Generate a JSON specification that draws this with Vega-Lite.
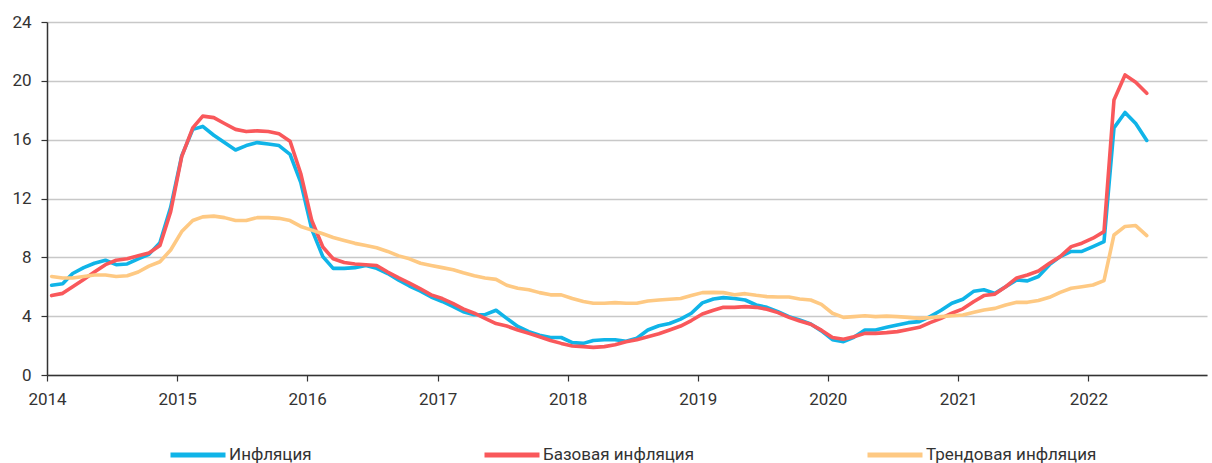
{
"$schema":"https://vega.github.io/schema/vega-lite/v6.json",
"width":1160,"height":353,
"autosize":{"type":"none"},
"padding":{"left":47,"top":22,"right":5,"bottom":88},
"background":"white",
"data":{"values":[
{"d":"2014-01-14","Инфляция":6.1,"Базовая инфляция":5.4,"Трендовая инфляция":6.7},
{"d":"2014-02-14","Инфляция":6.2,"Базовая инфляция":5.55,"Трендовая инфляция":6.6},
{"d":"2014-03-14","Инфляция":6.9,"Базовая инфляция":6.0,"Трендовая инфляция":6.6},
{"d":"2014-04-14","Инфляция":7.3,"Базовая инфляция":6.5,"Трендовая инфляция":6.7},
{"d":"2014-05-14","Инфляция":7.6,"Базовая инфляция":7.0,"Трендовая инфляция":6.8},
{"d":"2014-06-14","Инфляция":7.8,"Базовая инфляция":7.5,"Трендовая инфляция":6.8},
{"d":"2014-07-14","Инфляция":7.5,"Базовая инфляция":7.8,"Трендовая инфляция":6.7},
{"d":"2014-08-14","Инфляция":7.55,"Базовая инфляция":7.9,"Трендовая инфляция":6.75},
{"d":"2014-09-14","Инфляция":7.9,"Базовая инфляция":8.1,"Трендовая инфляция":7.0},
{"d":"2014-10-14","Инфляция":8.2,"Базовая инфляция":8.3,"Трендовая инфляция":7.4},
{"d":"2014-11-14","Инфляция":9.0,"Базовая инфляция":8.8,"Трендовая инфляция":7.7},
{"d":"2014-12-14","Инфляция":11.4,"Базовая инфляция":11.1,"Трендовая инфляция":8.5},
{"d":"2015-01-14","Инфляция":14.9,"Базовая инфляция":14.85,"Трендовая инфляция":9.75},
{"d":"2015-02-14","Инфляция":16.7,"Базовая инфляция":16.8,"Трендовая инфляция":10.5},
{"d":"2015-03-14","Инфляция":16.9,"Базовая инфляция":17.6,"Трендовая инфляция":10.75},
{"d":"2015-04-14","Инфляция":16.3,"Базовая инфляция":17.5,"Трендовая инфляция":10.8},
{"d":"2015-05-14","Инфляция":15.8,"Базовая инфляция":17.1,"Трендовая инфляция":10.7},
{"d":"2015-06-14","Инфляция":15.3,"Базовая инфляция":16.7,"Трендовая инфляция":10.5},
{"d":"2015-07-14","Инфляция":15.6,"Базовая инфляция":16.55,"Трендовая инфляция":10.5},
{"d":"2015-08-14","Инфляция":15.8,"Базовая инфляция":16.6,"Трендовая инфляция":10.7},
{"d":"2015-09-14","Инфляция":15.7,"Базовая инфляция":16.55,"Трендовая инфляция":10.7},
{"d":"2015-10-14","Инфляция":15.6,"Базовая инфляция":16.4,"Трендовая инфляция":10.65},
{"d":"2015-11-14","Инфляция":15.0,"Базовая инфляция":15.9,"Трендовая инфляция":10.5},
{"d":"2015-12-14","Инфляция":13.1,"Базовая инфляция":13.7,"Трендовая инфляция":10.1},
{"d":"2016-01-14","Инфляция":9.9,"Базовая инфляция":10.5,"Трендовая инфляция":9.85},
{"d":"2016-02-14","Инфляция":8.05,"Базовая инфляция":8.7,"Трендовая инфляция":9.6},
{"d":"2016-03-14","Инфляция":7.25,"Базовая инфляция":7.9,"Трендовая инфляция":9.35},
{"d":"2016-04-14","Инфляция":7.25,"Базовая инфляция":7.65,"Трендовая инфляция":9.15},
{"d":"2016-05-14","Инфляция":7.3,"Базовая инфляция":7.55,"Трендовая инфляция":8.95},
{"d":"2016-06-14","Инфляция":7.45,"Базовая инфляция":7.5,"Трендовая инфляция":8.8},
{"d":"2016-07-14","Инфляция":7.25,"Базовая инфляция":7.45,"Трендовая инфляция":8.65},
{"d":"2016-08-14","Инфляция":6.9,"Базовая инфляция":7.0,"Трендовая инфляция":8.4},
{"d":"2016-09-14","Инфляция":6.45,"Базовая инфляция":6.6,"Трендовая инфляция":8.1},
{"d":"2016-10-14","Инфляция":6.05,"Базовая инфляция":6.25,"Трендовая инфляция":7.9},
{"d":"2016-11-14","Инфляция":5.7,"Базовая инфляция":5.85,"Трендовая инфляция":7.6},
{"d":"2016-12-14","Инфляция":5.3,"Базовая инфляция":5.45,"Трендовая инфляция":7.45},
{"d":"2017-01-14","Инфляция":5.0,"Базовая инфляция":5.2,"Трендовая инфляция":7.3},
{"d":"2017-02-14","Инфляция":4.65,"Базовая инфляция":4.85,"Трендовая инфляция":7.15},
{"d":"2017-03-14","Инфляция":4.3,"Базовая инфляция":4.5,"Трендовая инфляция":6.95},
{"d":"2017-04-14","Инфляция":4.1,"Базовая инфляция":4.2,"Трендовая инфляция":6.75},
{"d":"2017-05-14","Инфляция":4.1,"Базовая инфляция":3.85,"Трендовая инфляция":6.6},
{"d":"2017-06-14","Инфляция":4.4,"Базовая инфляция":3.5,"Трендовая инфляция":6.5},
{"d":"2017-07-14","Инфляция":3.85,"Базовая инфляция":3.33,"Трендовая инфляция":6.1},
{"d":"2017-08-14","Инфляция":3.3,"Базовая инфляция":3.06,"Трендовая инфляция":5.9},
{"d":"2017-09-14","Инфляция":2.95,"Базовая инфляция":2.83,"Трендовая инфляция":5.8},
{"d":"2017-10-14","Инфляция":2.7,"Базовая инфляция":2.6,"Трендовая инфляция":5.6},
{"d":"2017-11-14","Инфляция":2.55,"Базовая инфляция":2.35,"Трендовая инфляция":5.45},
{"d":"2017-12-14","Инфляция":2.55,"Базовая инфляция":2.15,"Трендовая инфляция":5.45},
{"d":"2018-01-14","Инфляция":2.2,"Базовая инфляция":1.97,"Трендовая инфляция":5.2},
{"d":"2018-02-14","Инфляция":2.15,"Базовая инфляция":1.93,"Трендовая инфляция":5.0},
{"d":"2018-03-14","Инфляция":2.35,"Базовая инфляция":1.88,"Трендовая инфляция":4.88},
{"d":"2018-04-14","Инфляция":2.4,"Базовая инфляция":1.93,"Трендовая инфляция":4.88},
{"d":"2018-05-14","Инфляция":2.4,"Базовая инфляция":2.05,"Трендовая инфляция":4.92},
{"d":"2018-06-14","Инфляция":2.3,"Базовая инфляция":2.26,"Трендовая инфляция":4.88},
{"d":"2018-07-14","Инфляция":2.5,"Базовая инфляция":2.4,"Трендовая инфляция":4.88},
{"d":"2018-08-14","Инфляция":3.06,"Базовая инфляция":2.6,"Трендовая инфляция":5.03},
{"d":"2018-09-14","Инфляция":3.35,"Базовая инфляция":2.8,"Трендовая инфляция":5.1},
{"d":"2018-10-14","Инфляция":3.5,"Базовая инфляция":3.06,"Трендовая инфляция":5.15},
{"d":"2018-11-14","Инфляция":3.8,"Базовая инфляция":3.33,"Трендовая инфляция":5.2},
{"d":"2018-12-14","Инфляция":4.2,"Базовая инфляция":3.7,"Трендовая инфляция":5.4},
{"d":"2019-01-14","Инфляция":4.9,"Базовая инфляция":4.15,"Трендовая инфляция":5.6},
{"d":"2019-02-14","Инфляция":5.17,"Базовая инфляция":4.4,"Трендовая инфляция":5.62},
{"d":"2019-03-14","Инфляция":5.26,"Базовая инфляция":4.6,"Трендовая инфляция":5.6},
{"d":"2019-04-14","Инфляция":5.2,"Базовая инфляция":4.6,"Трендовая инфляция":5.45},
{"d":"2019-05-14","Инфляция":5.1,"Базовая инфляция":4.65,"Трендовая инфляция":5.53},
{"d":"2019-06-14","Инфляция":4.76,"Базовая инфляция":4.6,"Трендовая инфляция":5.42},
{"d":"2019-07-14","Инфляция":4.6,"Базовая инфляция":4.47,"Трендовая инфляция":5.33},
{"d":"2019-08-14","Инфляция":4.3,"Базовая инфляция":4.24,"Трендовая инфляция":5.3},
{"d":"2019-09-14","Инфляция":3.97,"Базовая инфляция":3.92,"Трендовая инфляция":5.3},
{"d":"2019-10-14","Инфляция":3.74,"Базовая инфляция":3.67,"Трендовая инфляция":5.17},
{"d":"2019-11-14","Инфляция":3.47,"Базовая инфляция":3.45,"Трендовая инфляция":5.1},
{"d":"2019-12-14","Инфляция":3.0,"Базовая инфляция":3.05,"Трендовая инфляция":4.8},
{"d":"2020-01-14","Инфляция":2.4,"Базовая инфляция":2.55,"Трендовая инфляция":4.2},
{"d":"2020-02-14","Инфляция":2.27,"Базовая инфляция":2.43,"Трендовая инфляция":3.92},
{"d":"2020-03-14","Инфляция":2.56,"Базовая инфляция":2.6,"Трендовая инфляция":3.97},
{"d":"2020-04-14","Инфляция":3.06,"Базовая инфляция":2.83,"Трендовая инфляция":4.03},
{"d":"2020-05-14","Инфляция":3.06,"Базовая инфляция":2.83,"Трендовая инфляция":3.97},
{"d":"2020-06-14","Инфляция":3.24,"Базовая инфляция":2.88,"Трендовая инфляция":4.0},
{"d":"2020-07-14","Инфляция":3.4,"Базовая инфляция":2.95,"Трендовая инфляция":3.97},
{"d":"2020-08-14","Инфляция":3.56,"Базовая инфляция":3.1,"Трендовая инфляция":3.92},
{"d":"2020-09-14","Инфляция":3.63,"Базовая инфляция":3.24,"Трендовая инфляция":3.85},
{"d":"2020-10-14","Инфляция":3.97,"Базовая инфляция":3.56,"Трендовая инфляция":3.9},
{"d":"2020-11-14","Инфляция":4.4,"Базовая инфляция":3.85,"Трендовая инфляция":3.97},
{"d":"2020-12-14","Инфляция":4.88,"Базовая инфляция":4.2,"Трендовая инфляция":4.03},
{"d":"2021-01-14","Инфляция":5.15,"Базовая инфляция":4.5,"Трендовая инфляция":4.08},
{"d":"2021-02-14","Инфляция":5.7,"Базовая инфляция":5.0,"Трендовая инфляция":4.26},
{"d":"2021-03-14","Инфляция":5.8,"Базовая инфляция":5.4,"Трендовая инфляция":4.42},
{"d":"2021-04-14","Инфляция":5.55,"Базовая инфляция":5.5,"Трендовая инфляция":4.53},
{"d":"2021-05-14","Инфляция":6.0,"Базовая инфляция":6.0,"Трендовая инфляция":4.76},
{"d":"2021-06-14","Инфляция":6.46,"Базовая инфляция":6.6,"Трендовая инфляция":4.94},
{"d":"2021-07-14","Инфляция":6.4,"Базовая инфляция":6.8,"Трендовая инфляция":4.94},
{"d":"2021-08-14","Инфляция":6.7,"Базовая инфляция":7.07,"Трендовая инфляция":5.06},
{"d":"2021-09-14","Инфляция":7.5,"Базовая инфляция":7.6,"Трендовая инфляция":5.28},
{"d":"2021-10-14","Инфляция":8.05,"Базовая инфляция":8.05,"Трендовая инфляция":5.62},
{"d":"2021-11-14","Инфляция":8.4,"Базовая инфляция":8.73,"Трендовая инфляция":5.9},
{"d":"2021-12-14","Инфляция":8.4,"Базовая инфляция":8.96,"Трендовая инфляция":6.0},
{"d":"2022-01-14","Инфляция":8.73,"Базовая инфляция":9.3,"Трендовая инфляция":6.12},
{"d":"2022-02-14","Инфляция":9.07,"Базовая инфляция":9.75,"Трендовая инфляция":6.42},
{"d":"2022-03-14","Инфляция":16.8,"Базовая инфляция":18.7,"Трендовая инфляция":9.52},
{"d":"2022-04-14","Инфляция":17.85,"Базовая инфляция":20.4,"Трендовая инфляция":10.1},
{"d":"2022-05-14","Инфляция":17.1,"Базовая инфляция":19.9,"Трендовая инфляция":10.16},
{"d":"2022-06-14","Инфляция":15.95,"Базовая инфляция":19.15,"Трендовая инфляция":9.48}
]},
"transform":[{"fold":["Инфляция","Базовая инфляция","Трендовая инфляция"],"as":["series","value"]}],
"mark":{"type":"line","strokeWidth":3.6,"strokeJoin":"round","strokeCap":"round"},
"encoding":{
 "x":{"field":"d","type":"temporal",
  "scale":{"type":"utc","domain":[{"year":2014,"month":1,"date":1,"utc":true},{"year":2022,"month":11,"date":30,"utc":true}]},
  "axis":{"title":null,"grid":false,"format":"%Y","formatType":"utc","labelFlush":false,"labelOverlap":false,
   "values":[{"year":2014,"utc":true},{"year":2015,"utc":true},{"year":2016,"utc":true},{"year":2017,"utc":true},{"year":2018,"utc":true},{"year":2019,"utc":true},{"year":2020,"utc":true},{"year":2021,"utc":true},{"year":2022,"utc":true}],
   "domainColor":"#333333","domainWidth":1.5,"tickColor":"#333333","tickWidth":1.2,"tickSize":6,
   "labelFontSize":17,"labelColor":"#333333","labelPadding":10,"labelFont":"Roboto"}},
 "y":{"field":"value","type":"quantitative",
  "scale":{"domain":[0,24],"nice":false},
  "axis":{"title":null,"values":[0,4,8,12,16,20,24],"grid":true,"gridColor":"#c8c8c8","gridWidth":1.5,
   "domainColor":"#333333","domainWidth":1.5,"tickColor":"#333333","tickWidth":1.2,"tickSize":6,
   "labelFontSize":17,"labelColor":"#333333","labelPadding":10,"labelFont":"Roboto"}},
 "color":{"field":"series","type":"nominal",
  "scale":{"domain":["Инфляция","Базовая инфляция","Трендовая инфляция"],"range":["#10b4e8","#f9585b","#fec983"]},
  "legend":{"title":null,"orient":"none","legendX":121,"legendY":403,"direction":"horizontal","columns":3,"gridAlign":"none","columnPadding":162,
   "padding":0,"symbolType":"stroke","symbolSize":3025,"symbolStrokeWidth":5,"labelOffset":1,"labelLimit":400,
   "labelFontSize":17,"labelColor":"#333333","labelFont":"Roboto"}}
},
"config":{"view":{"stroke":null}}
}
